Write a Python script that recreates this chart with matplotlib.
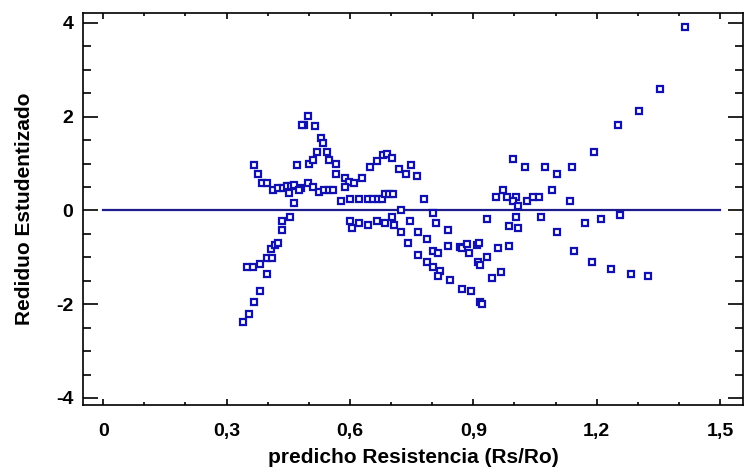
import matplotlib
matplotlib.use("Agg")
import matplotlib.pyplot as plt
from matplotlib.ticker import FuncFormatter, MultipleLocator

# predicted values (x) and studentized residuals (y)
predicho = [
    0.339, 0.355, 0.368, 0.382, 0.398, 0.349, 0.365, 0.382, 0.398, 0.410,
    0.408, 0.418, 0.426, 0.436, 0.436, 0.455,
    0.368, 0.376, 0.386, 0.398, 0.414, 0.426, 0.437, 0.447, 0.457, 0.465,
    0.453, 0.481, 0.476, 0.497, 0.511, 0.526, 0.538, 0.550, 0.560, 0.464,
    0.471, 0.500, 0.510, 0.520, 0.545, 0.529, 0.534, 0.515, 0.489, 0.483,
    0.498, 0.550, 0.566, 0.566,
    0.588, 0.599, 0.610, 0.629, 0.588, 0.579, 0.600, 0.623, 0.643, 0.655,
    0.668, 0.677, 0.686, 0.696, 0.706, 0.649, 0.667, 0.681, 0.691, 0.703,
    0.720, 0.737, 0.748, 0.764, 0.781, 0.724, 0.803,
    0.600, 0.606, 0.621, 0.643, 0.666, 0.685, 0.703, 0.708, 0.747, 0.724,
    0.765, 0.742, 0.765, 0.787, 0.787, 0.809, 0.839, 0.839, 0.868, 0.873,
    0.884, 0.908, 0.913, 0.803, 0.815, 0.890, 0.961, 0.988, 0.803, 0.819,
    0.814, 0.912, 0.916, 0.934, 0.967, 0.945, 0.844, 0.872, 0.895, 0.916,
    0.921,
    0.997, 1.025, 1.075, 1.141, 1.103, 1.194, 0.973, 0.955, 0.981, 1.003,
    0.997, 1.009, 1.031, 1.046, 1.059, 1.092, 1.135,
    0.934, 1.003, 0.988, 1.009, 1.064, 1.103, 1.172, 1.211, 1.144, 1.189,
    1.414, 1.353, 1.304, 1.251, 1.256, 1.234, 1.283, 1.326,
]
residuo = [
    -2.39, -2.21, -1.95, -1.72, -1.35, -1.20, -1.20, -1.15, -1.01, -1.01,
    -0.82, -0.74, -0.70, -0.42, -0.22, -0.13,
    0.97, 0.78, 0.58, 0.58, 0.44, 0.48, 0.47, 0.51, 0.53, 0.54,
    0.37, 0.47, 0.44, 0.59, 0.50, 0.40, 0.44, 0.44, 0.44, 0.15,
    0.97, 0.98, 1.08, 1.25, 1.25, 1.54, 1.44, 1.79, 1.83, 1.83,
    2.02, 1.07, 0.98, 0.78,
    0.69, 0.61, 0.58, 0.69, 0.49, 0.19, 0.24, 0.24, 0.24, 0.24,
    0.24, 0.24, 0.35, 0.35, 0.35, 0.93, 1.06, 1.18, 1.21, 1.11,
    0.88, 0.78, 0.97, 0.74, 0.24, 0.00, -0.05,
    -0.22, -0.37, -0.27, -0.32, -0.22, -0.27, -0.15, -0.32, -0.22, -0.47,
    -0.47, -0.70, -0.96, -1.09, -0.61, -0.27, -0.42, -0.76, -0.79, -0.81,
    -0.71, -0.74, -0.70, -0.86, -0.91, -0.91, -0.81, -0.76, -1.20, -1.29,
    -1.40, -1.11, -1.16, -1.00, -1.31, -1.45, -1.48, -1.67, -1.72, -1.96,
    -1.99,
    1.10, 0.92, 0.92, 0.92, 0.78, 1.24, 0.44, 0.28, 0.28, 0.29,
    0.19, 0.10, 0.19, 0.29, 0.29, 0.44, 0.19,
    -0.19, -0.15, -0.33, -0.37, -0.15, -0.47, -0.27, -0.19, -0.86, -1.10,
    3.92, 2.58, 2.12, 1.82, -0.10, -1.25, -1.35, -1.40,
]
x_ticks = [0, 0.3, 0.6, 0.9, 1.2, 1.5]
y_ticks = [-4, -2, 0, 2, 4]

plt.rcParams['font.family'] = ['Liberation Sans', 'DejaVu Sans']
plt.rcParams['font.weight'] = 'bold'

fig = plt.figure(figsize=(7.45, 4.75), dpi=100)
ax = fig.add_axes([0.1114, 0.1474, 0.886, 0.8252])

blue = '#1010b0'
ax.plot(predicho, residuo, linestyle='none', marker='s', markersize=4.3,
        markerfacecolor='white', markeredgecolor=blue, markeredgewidth=1.6)
ax.plot([0, 1.5], [0, 0], color='#1c1c8c', linewidth=1.6, zorder=1)

ax.set_xlim(-0.049, 1.556)
ax.set_ylim(-4.15, 4.21)
ax.set_xticks(x_ticks)
ax.set_yticks(y_ticks)
ax.xaxis.set_minor_locator(MultipleLocator(0.1))
ax.yaxis.set_minor_locator(MultipleLocator(0.5))

comma = FuncFormatter(lambda v, pos: ('%g' % v).replace('.', ','))
ax.xaxis.set_major_formatter(comma)
ax.yaxis.set_major_formatter(comma)

ax.tick_params(which='both', direction='in', top=True, right=True,
               width=1.2, labelsize=14, colors='black')
ax.tick_params(axis='x', which='major', length=4, pad=13)
ax.tick_params(axis='x', which='minor', length=2.2)
ax.tick_params(axis='y', which='major', length=10.5, pad=7)
ax.tick_params(axis='y', which='minor', length=5.5)
for sp in ax.spines.values():
    sp.set_linewidth(1.2)

ax.set_xlabel('predicho Resistencia (Rs/Ro)', fontsize=15, fontweight='bold',
              labelpad=6)
ax.set_ylabel('Rediduo Estudentizado', fontsize=15, fontweight='bold',
              labelpad=16)

fig.savefig('out.png', dpi=100)
